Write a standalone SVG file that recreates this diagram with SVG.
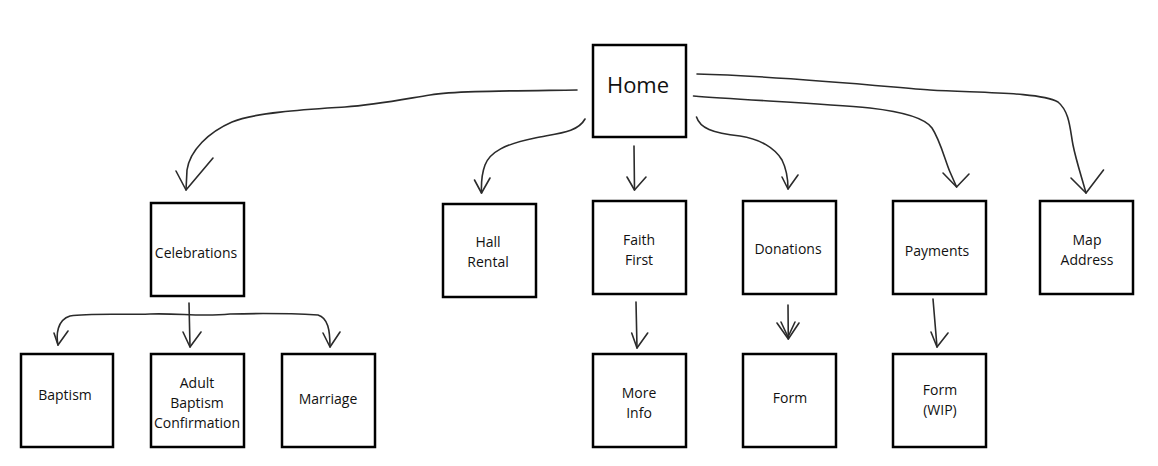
<svg xmlns="http://www.w3.org/2000/svg" width="1158" height="466" viewBox="0 0 1158 466">
<style>
.box{fill:#fff;stroke:#000;stroke-width:2.5}
.t{font-family:"Open Sans","Noto Sans",sans-serif;font-size:14px;fill:#111;text-anchor:middle}
.h{font-size:22px}
.c{fill:none;stroke:#2b2b2b;stroke-width:1.6;stroke-linecap:round;stroke-linejoin:round}
</style>
<rect width="1158" height="466" fill="#fff"/>
<g id="connectors">
<path class="c" d="M577,90 C500,91 455,91 430,95 S375,105 345,107 S255,112 232,122 S190,150 187,170 L186,190"/>
<path class="c" d="M176,171 L186,190 L213,158"/>
<path class="c" d="M585,119 C578,132 560,133 535,138 C505,144 490,152 485,165 C482,173 481,180 481.5,193"/>
<path class="c" d="M474.5,180 L481.5,193 L490,178"/>
<path class="c" d="M634,146 L634.5,190"/>
<path class="c" d="M627,177 L634.5,190 L646,177"/>
<path class="c" d="M696.5,117 C700,128 712,133 740,136 C760,139 775,148 782,160 C786,168 788,178 788,189"/>
<path class="c" d="M782,177 L788,189 L798,175"/>
<path class="c" d="M693.5,96 C740,100 820,103 870,108 C905,112 925,118 932,128 C940,140 945,160 950,172 L956.6,187"/>
<path class="c" d="M943,173 L956.6,187 L969,174"/>
<path class="c" d="M697,74 C780,76 880,86 930,90 C980,93 1040,92 1058,102 C1070,112 1070,130 1073,145 C1076,160 1081,175 1086,193"/>
<path class="c" d="M1071,178 L1086,193 L1103.5,170"/>
<path class="c" d="M189,303 L190,347"/>
<path class="c" d="M183,332 L190,347 L201,332"/>
<path class="c" d="M58,345 C56,335 57,320 70,316 C90,313 120,315 150,314 C180,313 200,317 230,314 C270,313 300,314 318,315 C328,318 330,330 330,347"/>
<path class="c" d="M54,333 L58,345 L68,331"/>
<path class="c" d="M323,333 L330,347 L340,332"/>
<path class="c" d="M636,302 L637,348"/>
<path class="c" d="M631.7,333 L637,348 L647.7,333"/>
<path class="c" d="M788,305 L788.3,339"/>
<path class="c" d="M777,323 L788.3,339 L799,323"/>
<path class="c" d="M781,322 L788,337 L795,322"/>
<path class="c" d="M933,299 L937,347"/>
<path class="c" d="M931,332 L937,347 L948,333"/>
</g>
<g id="home"><rect class="box" x="593" y="45" width="93" height="92"/><text class="t h" x="638" y="93">Home</text></g>
<g id="celebrations"><rect class="box" x="151" y="203" width="93" height="93"/><text class="t" x="196" y="258">Celebrations</text></g>
<g id="hall-rental"><rect class="box" x="443" y="204" width="93" height="93"/><text class="t" x="488" y="247">Hall</text><text class="t" x="488" y="267">Rental</text></g>
<g id="faith-first"><rect class="box" x="593" y="201" width="93" height="93"/><text class="t" x="639" y="245">Faith</text><text class="t" x="639" y="265">First</text></g>
<g id="donations"><rect class="box" x="743" y="201" width="93" height="93"/><text class="t" x="788" y="254">Donations</text></g>
<g id="payments"><rect class="box" x="893" y="201" width="93" height="93"/><text class="t" x="937" y="256">Payments</text></g>
<g id="map-address"><rect class="box" x="1040" y="201" width="93" height="93"/><text class="t" x="1087" y="245">Map</text><text class="t" x="1087" y="265">Address</text></g>
<g id="baptism"><rect class="box" x="21" y="354" width="92" height="93"/><text class="t" x="65" y="400">Baptism</text></g>
<g id="adult-baptism"><rect class="box" x="151" y="354" width="93" height="93"/><text class="t" x="197" y="388">Adult</text><text class="t" x="197" y="408">Baptism</text><text class="t" x="197" y="428">Confirmation</text></g>
<g id="marriage"><rect class="box" x="282" y="354" width="93" height="93"/><text class="t" x="328" y="404">Marriage</text></g>
<g id="more-info"><rect class="box" x="593" y="354" width="93" height="93"/><text class="t" x="639" y="398">More</text><text class="t" x="639" y="418">Info</text></g>
<g id="donation-form"><rect class="box" x="743" y="354" width="93" height="93"/><text class="t" x="790" y="403">Form</text></g>
<g id="payment-form"><rect class="box" x="893" y="354" width="93" height="93"/><text class="t" x="940" y="395">Form</text><text class="t" x="940" y="415">(WIP)</text></g>
</svg>
